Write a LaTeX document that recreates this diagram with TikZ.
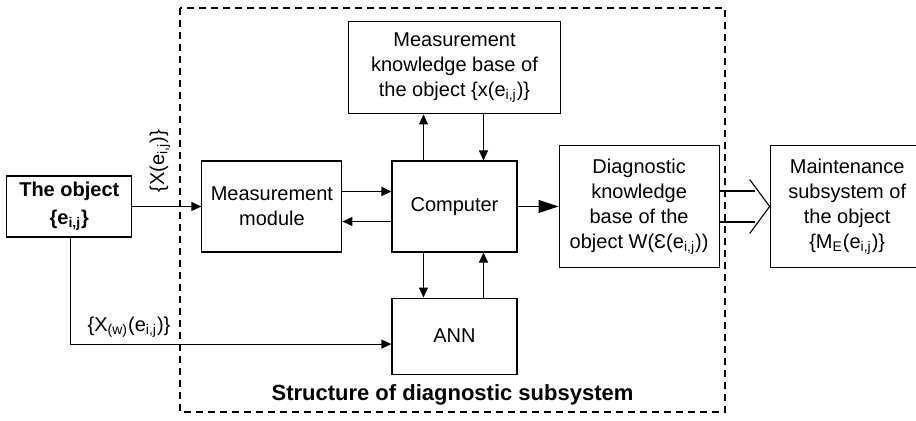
\documentclass[tikz,border=0pt]{standalone}
\usepackage{fontspec}
\setmainfont{Liberation Sans}
\usetikzlibrary{arrows.meta,positioning}

\tikzset{
	blockbox/.style={draw, rectangle, align=center, inner sep=0pt, line width=0.55pt, font=\fontsize{10}{12.5}\selectfont},
	sig/.style={->, line width=0.55pt},
	lbl/.style={inner sep=0pt, font=\fontsize{10}{12.5}\selectfont}
}
\newcommand{\eij}{e\textsubscript{i,j}}

\begin{document}
\begin{tikzpicture}[x=0.5pt, y=-0.5pt, >={Triangle[length=5pt,width=4.5pt]}]
		\useasboundingbox (0,0) rectangle (916,421);

		% diagnostic subsystem frame
		\draw[line width=0.55pt, dash pattern=on 3.5pt off 2.5pt] (180,8) rectangle (725,412);
		\node[lbl, font=\fontsize{11}{13}\selectfont\bfseries] (title) at (452.5,395) {Structure of diagnostic subsystem};

		\node[blockbox, minimum width=62.5pt, minimum height=45.5pt] (comp) at (454.5,206.5) {Computer};
		\node[blockbox, minimum width=70pt, minimum height=45.5pt, left=24.5pt of comp] (mm) {Measurement\\module};
		\node[blockbox, minimum width=62.5pt, minimum height=30.5pt, left=34.5pt of mm, font=\fontsize{10}{14}\selectfont\bfseries] (obj) {The object\\\{\eij\}};
		\node[blockbox, minimum width=106pt, minimum height=46pt, above=23pt of comp] (kb) {Measurement\\knowledge base of\\the object \{x(\eij)\}};
		\node[blockbox, minimum width=62.5pt, minimum height=38pt, below=22.5pt of comp] (ann) {ANN};
		\node[blockbox, minimum width=80pt, minimum height=61pt, right=20.5pt of comp] (dkb) {Diagnostic\\knowledge\\base of the\\object W(Ɛ(\eij))};
		\node[blockbox, minimum width=77pt, minimum height=61pt, right=25pt of dkb] (maint) {Maintenance\\subsystem of\\the object\\\{M\textsubscript{E}(\eij)\}};

		% signal labels
		\node[lbl, rotate=90] (xlbl) at (160,161) {\{X(\eij)\}};
		\node[lbl] (xwlbl) at (129,327) {\{X\textsubscript{(w)}(\eij)\}};

		\draw[sig] (obj.east) -- (obj.east -| mm.west);
		\draw[sig] ([yshift=7.5pt]mm.east) -- ([yshift=7.5pt]mm.east -| comp.west);
		\draw[sig] ([yshift=-7.5pt]comp.west) -- ([yshift=-7.5pt]comp.west -| mm.east);
		\draw[sig] ([xshift=-15.5pt]comp.north) -- ([xshift=-15.5pt]comp.north |- kb.south);
		\draw[sig] ([xshift=14.5pt]kb.south |- kb.south) -- ([xshift=14.5pt]comp.north);
		\draw[sig] ([xshift=-15.5pt]comp.south) -- ([xshift=-15.5pt]comp.south |- ann.north);
		\draw[sig] ([xshift=14.5pt]ann.north) -- ([xshift=14.5pt]comp.south);
		\draw[line width=0.55pt, -{Triangle[length=10pt,width=6.5pt]}] (comp.east) -- (comp.east -| dkb.west);
		\draw[sig] ([xshift=0.75pt]obj.south) |- ([yshift=-4pt]ann.west);

		% double arrow to maintenance
		\coordinate (tipA) at ([xshift=-10pt,yshift=13.5pt]maint.west);
		\coordinate (tipB) at ([xshift=-10pt,yshift=-13.5pt]maint.west);
		\draw[line width=0.55pt] ([yshift=7.75pt]dkb.east) -- ([xshift=-7.5pt,yshift=7.75pt]maint.west);
		\draw[line width=0.55pt] ([yshift=-7.75pt]dkb.east) -- ([xshift=-7.5pt,yshift=-7.75pt]maint.west);
		\draw[line width=0.55pt] (tipA) -- (maint.west) -- (tipB);
	\end{tikzpicture}
\end{document}
